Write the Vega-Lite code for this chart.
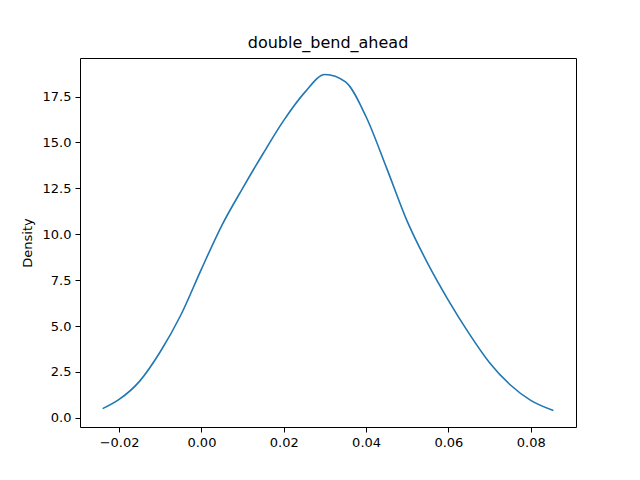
{
  "$schema": "https://vega.github.io/schema/vega-lite/v6.json",
  "width": 496,
  "height": 369,
  "autosize": "none",
  "padding": {"left": 80, "top": 58, "right": 64, "bottom": 53},
  "background": "white",
  "title": {"text": "double_bend_ahead", "font": "DejaVu Sans", "fontSize": 16, "fontWeight": "normal", "offset": 7},
  "config": {
    "view": {"stroke": "black", "strokeWidth": 1},
    "axis": {"grid": false, "domain": false, "labelFont": "DejaVu Sans", "labelFontSize": 13, "labelColor": "black", "tickColor": "black", "tickSize": 5, "titleFont": "DejaVu Sans", "titleFontSize": 13, "titleFontWeight": "normal", "labelPadding": 4}
  },
  "data": {"values": [
    {"x": -0.024, "y": 0.5},
    {"x": -0.02, "y": 1.0},
    {"x": -0.015, "y": 2.0},
    {"x": -0.01, "y": 3.6},
    {"x": -0.005, "y": 5.6},
    {"x": 0.0, "y": 8.1},
    {"x": 0.005, "y": 10.5},
    {"x": 0.01, "y": 12.5},
    {"x": 0.015, "y": 14.4},
    {"x": 0.02, "y": 16.2},
    {"x": 0.025, "y": 17.7},
    {"x": 0.03, "y": 18.7},
    {"x": 0.035, "y": 18.3},
    {"x": 0.04, "y": 16.4},
    {"x": 0.045, "y": 13.6},
    {"x": 0.05, "y": 10.7},
    {"x": 0.055, "y": 8.4},
    {"x": 0.06, "y": 6.4},
    {"x": 0.065, "y": 4.6},
    {"x": 0.07, "y": 3.0},
    {"x": 0.075, "y": 1.8},
    {"x": 0.08, "y": 0.95},
    {"x": 0.0855, "y": 0.4}
  ]},
  "mark": {"type": "line", "interpolate": "monotone", "color": "#1f77b4", "strokeWidth": 1.6},
  "encoding": {
    "x": {"field": "x", "type": "quantitative", "scale": {"domain": [-0.0295, 0.091], "nice": false, "zero": false},
      "axis": {"title": null, "values": [-0.02, 0, 0.02, 0.04, 0.06, 0.08], "format": ".2f"}},
    "y": {"field": "y", "type": "quantitative", "scale": {"domain": [-0.5, 19.6], "nice": false, "zero": false},
      "axis": {"title": "Density", "values": [0, 2.5, 5, 7.5, 10, 12.5, 15, 17.5], "format": ".1f", "titlePadding": 8}}
  }
}
